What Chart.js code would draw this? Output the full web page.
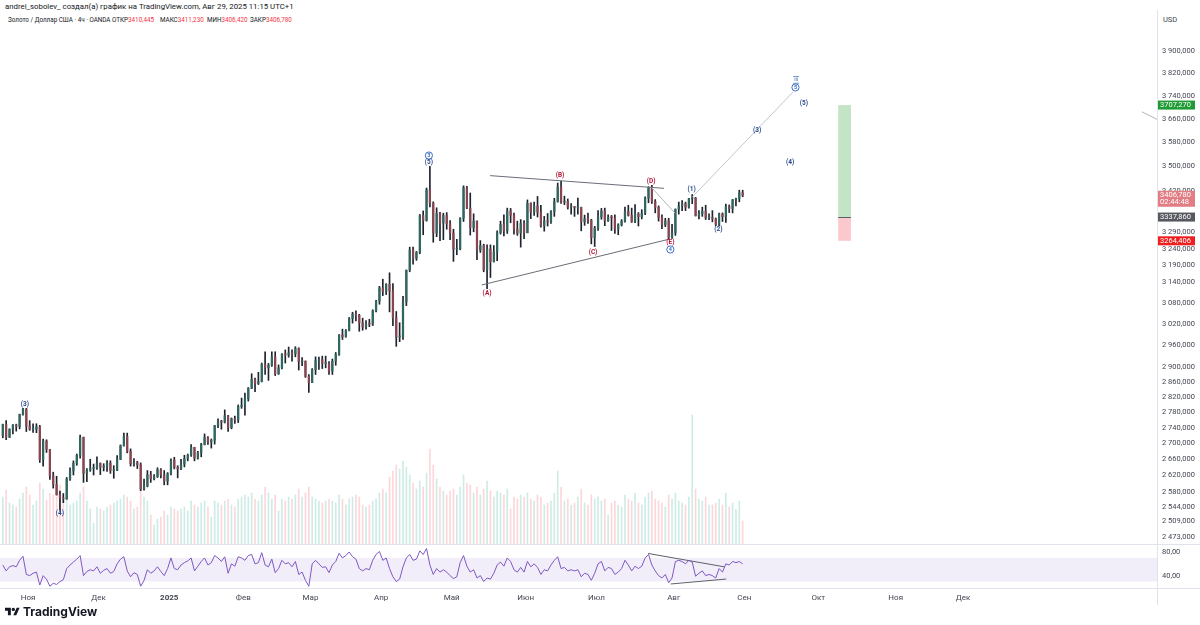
<!DOCTYPE html>
<html lang="ru">
<head>
<meta charset="utf-8">
<title>Золото / Доллар США · 4ч · OANDA</title>
<script src="https://cdn.jsdelivr.net/npm/chart.js@4.4.1/dist/chart.umd.min.js"></script>
<style>
  html, body { margin: 0; padding: 0; background: #fff; }
  body { width: 1200px; height: 625px; position: relative; overflow: hidden;
         font-family: Roboto, "Liberation Sans", Arial, sans-serif; color: #131722; }
  .abs { position: absolute; white-space: nowrap; }
  #author { left: 5px; top: 2px; font-size: 7.8px; }
  .sym { top: 16px; font-size: 6.3px; }
  .sym .v { color: #f23645; }
  #usd { left: 1163px; top: 15px; font-size: 7.5px; color: #434651; }
  #price { left: 0; top: 0; width: 1200px; height: 545px; }
  #rsi { left: 0; top: 545px; width: 1200px; height: 60px; }
  .hline { position: absolute; height: 1px; background: #e0e3eb; }
  .vline { position: absolute; width: 1px; background: #e0e3eb; }
  #logo { left: 5px; top: 604px; font: bold 12px Inter, Roboto, sans-serif; display: flex; align-items: center; gap: 3px; }
</style>
</head>
<body>
<div id="author" class="abs">andrei_sobolev_ создал(а) график на TradingView.com, Авг 29, 2025 11:15 UTC+1</div>
<div class="abs sym" style="left:8px">Золото / Доллар США · 4ч · OANDA</div>
<div class="abs sym" style="left:112px">ОТКР<span class="v">3410,445</span></div>
<div class="abs sym" style="left:160px">МАКС<span class="v">3411,230</span></div>
<div class="abs sym" style="left:207px">МИН<span class="v">3406,420</span></div>
<div class="abs sym" style="left:250px">ЗАКР<span class="v">3406,780</span></div>
<div id="usd" class="abs">USD</div>
<canvas id="price" class="abs" width="1200" height="545"></canvas>
<canvas id="rsi" class="abs" width="1200" height="60"></canvas>
<div class="hline" style="left:0;top:544px;width:1200px"></div>
<div class="hline" style="left:0;top:588px;width:1200px"></div>
<div class="vline" style="left:1157px;top:10px;height:595px"></div>
<div id="logo" class="abs">
  <svg width="15" height="11" viewBox="0 0 36 26"><path d="M14 22H7V11H0V4h14z" fill="#131722"/><circle cx="20" cy="8" r="4" fill="#131722"/><path d="M28 4h7l-8 18h-7z" fill="#131722"/></svg>
  <span>TradingView</span>
</div>

<script>
// ===== DATA =====
// one daily bar per trading day: index 0 = 22 Oct 2024, last = 29 Aug 2025 (partial)
const opens = [
  2720,2748,2715,2736,2747,2743,2774,2788, // Oct
  2744,2736,2736,2742,2659,2706,2685,2619,2598,2573,2565,2563,2611,2631,2650,2670,2715,2625,2633,2637,2639, // Nov
  2650,2640,2643,2650,2632,2633,2660,2694,2718,2680,2648,2652,2646,2587,2594,2622,2612,2617,2634,2621,2606, // Dec
  2624,2658,2640,2636,2648,2662,2670,2690,2663,2677,2697,2715,2703,2708,2745,2755,2754,2771,2740,2763,2760,2795, // Jan
  2798,2815,2843,2867,2856,2861,2908,2898,2905,2928,2882,2898,2935,2933,2939,2936,2951,2915,2916,2875, // Feb
  2858,2893,2918,2920,2910,2910,2889,2916,2934,2989,2984,3001,3035,3048,3044,3023,3011,3020,3019,3057,3085, // Mar
  3124,3113,3134,3114,3037,2983,2983,3083,3176,3237,3211,3229,3343,3327,3424,3381,3288,3349,3319,3343,3317, // Apr
  3288,3239,3240,3334,3431,3366,3305,3325,3236,3250,3177,3240,3201,3230,3289,3315,3295,3357,3343,3301,3288,3318, // May
  3289,3381,3353,3373,3353,3310,3326,3323,3355,3386,3433,3385,3388,3369,3370,3368,3368,3323,3333,3328,3274, // Jun
  3303,3338,3357,3326,3337,3336,3301,3313,3325,3355,3343,3324,3347,3339,3350,3397,3431,3387,3368,3337,3314,3326,3275, // Jul
  3289,3363,3373,3380,3369,3396,3398,3342,3348,3356,3336,3336,3332,3315,3348,3339,3371,3365,3393,3396,3415 // Aug
];
const highs = [
  2749,2758,2737,2748,2749,2775,2790,2790,
  2758,2750,2750,2746,2711,2709,2685,2628,2618,2582,2576,2615,2639,2656,2673,2721,2716,2637,2660,2648,2666,
  2651,2649,2657,2656,2644,2669,2696,2726,2726,2686,2662,2655,2651,2611,2632,2630,2622,2639,2637,2632,2627,
  2661,2665,2644,2660,2670,2673,2697,2690,2680,2700,2724,2717,2711,2746,2763,2759,2786,2772,2765,2770,2799,2817,
  2830,2845,2882,2870,2886,2911,2942,2910,2942,2942,2906,2937,2947,2955,2947,2956,2953,2926,2917,2880,
  2896,2928,2927,2930,2930,2915,2922,2940,2990,3005,3004,3038,3053,3057,3047,3036,3029,3033,3060,3087,3128,
  3149,3136,3168,3136,3055,3023,3099,3176,3245,3245,3232,3346,3357,3430,3500,3386,3367,3353,3350,3352,3327,
  3300,3269,3336,3437,3435,3414,3348,3326,3265,3254,3252,3252,3250,3295,3325,3345,3366,3365,3350,3325,3330,3327,
  3392,3383,3385,3403,3375,3340,3349,3358,3397,3446,3452,3404,3395,3380,3371,3398,3369,3344,3350,3331,3309,
  3358,3365,3366,3345,3343,3345,3317,3330,3369,3375,3366,3377,3352,3361,3402,3434,3439,3393,3373,3345,3334,3334,3315,
  3363,3385,3390,3385,3397,3409,3400,3358,3369,3375,3348,3358,3335,3350,3351,3379,3376,3393,3398,3423,3423
];
const lows = [
  2714,2709,2715,2724,2731,2737,2772,2730,
  2733,2728,2727,2652,2643,2677,2610,2589,2572,2536,2554,2562,2608,2621,2645,2663,2603,2605,2630,2621,2635,
  2622,2631,2630,2625,2613,2632,2659,2693,2676,2643,2643,2637,2583,2584,2592,2603,2609,2615,2614,2597,2597,
  2621,2636,2614,2634,2641,2656,2667,2656,2660,2666,2696,2697,2688,2698,2740,2736,2752,2730,2737,2751,2753,2790,
  2772,2809,2842,2834,2853,2860,2880,2864,2902,2877,2880,2895,2911,2927,2916,2928,2892,2904,2872,2832,
  2858,2880,2894,2896,2898,2880,2880,2905,2932,2976,2982,3000,3022,3028,2999,3002,3005,3012,3015,3054,3076,
  3101,3104,3054,3015,2957,2970,2976,3072,3171,3194,3205,3225,3283,3325,3370,3260,3277,3265,3268,3300,3268,
  3202,3222,3237,3324,3364,3282,3292,3207,3229,3171,3121,3154,3200,3204,3285,3279,3287,3320,3285,3281,3245,3271,
  3289,3333,3343,3338,3306,3294,3310,3318,3340,3385,3381,3377,3363,3347,3340,3347,3295,3312,3318,3255,3247,
  3296,3331,3311,3324,3296,3287,3283,3310,3322,3341,3321,3320,3310,3332,3345,3383,3381,3351,3325,3302,3308,3268,3272,
  3281,3347,3358,3358,3366,3380,3341,3332,3340,3330,3330,3323,3311,3311,3324,3321,3352,3351,3373,3386,3402
];
const closes = [
  2748,2715,2736,2747,2743,2774,2788,2744,
  2736,2736,2742,2659,2706,2685,2619,2598,2573,2565,2563,2611,2631,2650,2670,2715,2625,2633,2637,2639,2650,
  2640,2643,2650,2632,2633,2660,2694,2718,2680,2648,2652,2646,2587,2594,2622,2612,2617,2634,2621,2606,2624,
  2658,2640,2636,2648,2662,2670,2690,2663,2677,2697,2715,2703,2708,2745,2755,2754,2771,2740,2763,2760,2795,2798,
  2815,2843,2867,2856,2861,2908,2898,2905,2928,2882,2898,2935,2933,2939,2936,2951,2915,2916,2875,2858,
  2893,2918,2920,2910,2910,2889,2916,2934,2989,2984,3001,3035,3048,3044,3023,3011,3020,3019,3057,3085,3124,
  3113,3134,3114,3037,2983,2983,3083,3176,3237,3211,3229,3343,3327,3424,3381,3288,3349,3319,3343,3317,3288,
  3239,3240,3334,3431,3366,3305,3325,3236,3250,3177,3240,3201,3230,3289,3315,3295,3357,3343,3301,3288,3318,3289,
  3381,3353,3373,3353,3310,3326,3323,3355,3386,3433,3385,3388,3369,3370,3368,3368,3323,3333,3328,3274,3303,
  3338,3357,3326,3337,3336,3301,3313,3325,3355,3343,3324,3347,3339,3350,3397,3431,3387,3368,3337,3314,3326,3275,3289,
  3363,3373,3380,3369,3396,3398,3342,3348,3356,3336,3336,3332,3315,3348,3339,3371,3365,3393,3396,3415,3406.78
];
// volume, thousands
const volumes = [
  48,55,42,40,38,46,52,58,
  50,40,44,62,56,45,52,50,48,60,44,46,40,42,44,52,58,44,36,22,38,
  36,34,38,40,42,44,46,50,48,44,36,38,56,48,44,30,20,26,28,34,30,
  38,36,34,36,38,34,44,40,38,42,44,38,28,44,42,40,44,46,40,38,46,48,
  50,48,52,46,44,50,58,52,46,50,34,46,44,48,46,50,56,48,52,58,
  48,46,44,42,44,46,44,42,50,46,40,46,48,50,48,40,38,40,44,46,52,
  56,52,68,74,80,76,84,78,70,62,56,64,58,72,96,80,66,58,54,50,54,
  56,50,58,70,62,60,52,58,50,56,64,54,48,54,52,50,56,36,48,46,50,48,
  52,46,44,50,48,40,42,44,52,74,58,44,46,40,42,48,56,42,40,50,46,
  48,44,46,30,42,44,40,38,50,46,44,52,42,40,48,52,54,46,44,42,38,50,46,
  52,44,42,40,48,130,56,46,44,48,40,40,42,46,40,52,38,42,36,44,24
];
const rsiValues = [
  58,48,55,57,55,66,73,42,
  40,44,46,24,40,34,22,27,25,30,33,52,58,63,68,74,40,47,50,48,55,
  44,49,52,44,47,60,68,72,48,38,45,42,22,32,50,44,48,55,47,40,52,
  70,52,50,58,62,65,70,48,56,64,70,58,62,74,70,64,72,44,60,56,72,70,
  66,74,76,60,62,79,58,55,68,45,52,66,60,62,55,64,42,46,32,22,
  60,66,60,54,55,45,58,64,78,70,74,80,72,68,52,48,52,50,66,76,81,
  66,70,52,38,30,34,55,70,76,66,68,82,76,86,58,42,52,46,50,46,40,
  35,38,62,74,56,46,50,36,40,30,36,34,44,58,63,56,70,64,50,46,54,46,
  64,55,60,54,42,50,48,58,66,72,52,54,48,50,48,50,38,44,42,32,44,
  60,64,48,54,52,42,46,52,66,58,48,56,52,56,70,76,58,48,40,36,42,28,36,
  64,66,64,60,66,63,39,44,48,40,42,40,36,52,46,60,58,64,62,64,60
];

const priceTicks = [3900,3820,3740,3660,3580,3500,3420,3290,3240,3190,3140,3080,3020,2960,2900,2860,2820,2780,2740,2700,2660,2620,2580,2544,2509,2473];
const rsiTicks = [40, 80];
// first trading day of each month, as bar index (future months continue the count)
const monthTicks = [8,29,50,72,92,113,134,156,177,200,221,243,266,286];
const monthLabels = ["Ноя","Дек","2025","Фев","Мар","Апр","Май","Июн","Июл","Авг","Сен","Окт","Ноя","Дек"];

// drawings (bar index, price)
const triangleUpper = [{x:145.4, y:3470}, {x:197.1, y:3429}];
const triangleLower = [{x:142.9, y:3132}, {x:198.9, y:3270}];
const lineFromD = [{x:193.2, y:3434}, {x:200.4, y:3350}];
const projection = [{x:205.6, y:3402}, {x:235.5, y:3753}];
const edgeLine = [{x:339.2, y:3684}, {x:343.7, y:3658}];
const longPos = { from: 248.9, to: 252.7, target: 3707.27, entry: 3337.86, stop: 3264.406 };
// [text, bar index, price, kind]
const waveLabels = [
  ["(3)", 7.1, 2801, "minor"], ["(4)", 17.5, 2529, "minor"],
  ["3", 127.2, 3536, "circle"], ["(5)", 127.2, 3513, "minor"],
  ["(A)", 144.5, 3108, "abc"], ["(B)", 166.2, 3472, "abc"], ["(C)", 176.0, 3230, "abc"],
  ["(D)", 193.3, 3453, "abc"], ["(E)", 199.0, 3259, "abc"], ["4", 199.0, 3238, "circle"],
  ["(1)", 205.3, 3424, "minor"], ["(2)", 213.3, 3301, "minor"],
  ["(3)", 224.8, 3619, "minor"], ["(4)", 234.6, 3515, "minor"], ["(5)", 238.7, 3714, "minor"],
  ["5", 236.2, 3769, "circle"], ["iii", 236.4, 3796, "roman"]
];
const rsiUpper = [{x:192.4, y:77.6}, {x:215.1, y:54.9}];
const rsiLower = [{x:199.1, y:25.8}, {x:215.6, y:34.2}];

// ===== CHARTS =====
const X_MIN = -0.33, X_MAX = 343.7;
const FONT = "Roboto, 'Liberation Sans', Arial, sans-serif";
Chart.defaults.font.family = FONT;

const xs = closes.map((_, i) => i + 0.5);
const isUp = closes.map((c, i) => c >= opens[i]);

function fmtNum(v, dec, sep) {
  const [i, f] = v.toFixed(dec).split(".");
  return i.replace(/\B(?=(\d{3})+(?!\d))/g, sep) + "," + f;
}

function lineSet(data, color, axis) {
  return { type: "line", data, borderColor: color, borderWidth: 1, pointRadius: 0, yAxisID: axis, order: 0 };
}

// keep the plot area flush with the canvas edges (no label overhang padding)
function noPad(scale) {
  scale.paddingTop = 0;
  scale.paddingBottom = 0;
  scale.paddingLeft = 0;
  scale.paddingRight = 0;
}

const overlayPlugin = {
  id: "overlay",
  afterDatasetsDraw(chart) {
    const { ctx, scales: { x, y } } = chart;
    ctx.save();
    // long position tool
    const x0 = x.getPixelForValue(longPos.from), x1 = x.getPixelForValue(longPos.to);
    const yt = y.getPixelForValue(longPos.target), ye = y.getPixelForValue(longPos.entry), ys = y.getPixelForValue(longPos.stop);
    ctx.fillStyle = "rgba(76,175,80,0.33)";
    ctx.fillRect(x0, yt, x1 - x0, ye - yt);
    ctx.fillStyle = "rgba(242,54,69,0.27)";
    ctx.fillRect(x0, ye, x1 - x0, ys - ye);
    ctx.fillStyle = "#5d606b";
    ctx.fillRect(x0, Math.round(ye), x1 - x0, 1);

    // wave labels
    ctx.textAlign = "center";
    ctx.textBaseline = "middle";
    waveLabels.forEach(([text, xi, p, kind]) => {
      const px = x.getPixelForValue(xi), py = y.getPixelForValue(p);
      if (kind === "circle") {
        ctx.strokeStyle = "#3a6fc4";
        ctx.lineWidth = 1;
        ctx.beginPath();
        ctx.arc(px, py, 3.6, 0, Math.PI * 2);
        ctx.stroke();
        ctx.fillStyle = "#3a6fc4";
        ctx.font = "bold 5.5px " + FONT;
        ctx.fillText(text, px, py + 0.3);
      } else if (kind === "roman") {
        ctx.fillStyle = "#3a6fc4";
        ctx.font = "5.5px " + FONT;
        ctx.fillText(text, px, py);
        ctx.fillRect(px - 3, py - 3.5, 6, 0.7);
        ctx.fillRect(px - 3, py + 3, 6, 0.7);
      } else {
        ctx.fillStyle = kind === "abc" ? "#b5173a" : "#2a4b8d";
        ctx.font = "bold 6.5px " + FONT;
        ctx.fillText(text, px, py);
      }
    });
    ctx.restore();
  },
  afterDraw(chart) {
    const { ctx, scales: { y } } = chart;
    const left = 1157, w = 38;
    ctx.save();
    ctx.font = "7.5px " + FONT;
    ctx.textAlign = "left";
    ctx.textBaseline = "middle";
    function badge(price, bg, lines) {
      const py = y.getPixelForValue(price);
      const h = lines.length === 1 ? 9 : 16;
      ctx.fillStyle = bg;
      ctx.fillRect(left, py - 4.5, w, h);
      ctx.fillStyle = "#fff";
      lines.forEach((t, k) => ctx.fillText(t, left + 3, py + k * 7));
    }
    badge(longPos.target, "#1e9b34", [fmtNum(longPos.target, 3, "")]);
    badge(closes[closes.length - 1], "#e27d84", [fmtNum(closes[closes.length - 1], 3, ""), "02:44:48"]);
    badge(longPos.entry, "#56585f", [fmtNum(longPos.entry, 3, "")]);
    badge(longPos.stop, "#f01f1f", [fmtNum(longPos.stop, 3, "")]);
    ctx.restore();
  }
};

new Chart(document.getElementById("price"), {
  type: "bar",
  data: {
    datasets: [
      lineSet(triangleUpper, "#6a6d78", "y"),
      lineSet(triangleLower, "#6a6d78", "y"),
      lineSet(lineFromD, "#b2b5be", "y"),
      lineSet(projection, "#c3c6ce", "y"),
      lineSet(edgeLine, "#b2b5be", "y"),
      {
        data: xs.map((x, i) => ({ x, y: [opens[i], closes[i]] })),
        backgroundColor: isUp.map(u => (u ? "#2f6660" : "#8a4650")),
        barThickness: 1.6, minBarLength: 1, grouped: false, yAxisID: "y", order: 1
      },
      {
        data: xs.map((x, i) => ({ x, y: [lows[i], highs[i]] })),
        backgroundColor: "#1f232e",
        barThickness: 1, grouped: false, yAxisID: "y", order: 2
      },
      {
        data: xs.map((x, i) => ({ x, y: volumes[i] })),
        backgroundColor: isUp.map(u => (u ? "rgba(8,153,129,0.2)" : "rgba(242,54,69,0.2)")),
        barThickness: 1, grouped: false, yAxisID: "vol", order: 3
      }
    ]
  },
  options: {
    responsive: false,
    animation: false,
    events: [],
    layout: { padding: { top: 30, left: 0, right: 0, bottom: 0 } },
    plugins: { legend: { display: false }, tooltip: { enabled: false } },
    scales: {
      x: { type: "linear", min: X_MIN, max: X_MAX, offset: false, display: false },
      y: {
        type: "logarithmic",
        position: "right",
        min: 2454.6,
        max: 3977.5,
        grid: { display: false, drawTicks: false },
        border: { display: false },
        afterFit(scale) { scale.width = 43; noPad(scale); },
        afterBuildTicks(scale) { scale.ticks = priceTicks.map(v => ({ value: v })); },
        ticks: {
          autoSkip: false,
          padding: 5,
          color: "#434651",
          font: { size: 7.5 },
          callback: v => fmtNum(v, 3, " ")
        }
      },
      vol: { type: "linear", display: false, min: 0, max: 515 }
    }
  },
  plugins: [overlayPlugin]
});

const rsiBandPlugin = {
  id: "rsiBand",
  beforeDatasetsDraw(chart) {
    const { ctx, chartArea, scales: { y } } = chart;
    const top = y.getPixelForValue(70), bottom = y.getPixelForValue(30);
    ctx.save();
    ctx.fillStyle = "rgba(126,87,194,0.1)";
    ctx.fillRect(chartArea.left, top, chartArea.right - chartArea.left, bottom - top);
    ctx.restore();
  }
};

new Chart(document.getElementById("rsi"), {
  type: "line",
  data: {
    datasets: [
      {
        data: xs.map((x, i) => ({ x, y: rsiValues[i] })),
        borderColor: "#7e57c2", borderWidth: 1, pointRadius: 0, tension: 0
      },
      { data: rsiUpper, borderColor: "#5d606b", borderWidth: 1, pointRadius: 0 },
      { data: rsiLower, borderColor: "#5d606b", borderWidth: 1, pointRadius: 0 }
    ]
  },
  options: {
    responsive: false,
    animation: false,
    events: [],
    layout: { padding: 0 },
    plugins: { legend: { display: false }, tooltip: { enabled: false } },
    scales: {
      x: {
        type: "linear",
        min: X_MIN,
        max: X_MAX,
        offset: false,
        grid: { display: false, drawTicks: false },
        border: { display: false },
        afterFit(scale) { scale.height = 17; noPad(scale); },
        afterBuildTicks(scale) { scale.ticks = monthTicks.map(v => ({ value: v })); },
        ticks: {
          autoSkip: false,
          maxRotation: 0,
          padding: 5,
          color: "#434651",
          font: c => ({ size: 8, weight: c.tick && c.tick.value === 50 ? "bold" : "normal" }),
          callback: (v, i) => monthLabels[i]
        }
      },
      y: {
        position: "right",
        min: 19,
        max: 92,
        grid: { display: false, drawTicks: false },
        border: { display: false },
        afterFit(scale) { scale.width = 43; noPad(scale); },
        afterBuildTicks(scale) { scale.ticks = rsiTicks.map(v => ({ value: v })); },
        ticks: {
          padding: 5,
          color: "#434651",
          font: { size: 7.5 },
          callback: v => v.toFixed(2).replace(".", ",")
        }
      }
    }
  },
  plugins: [rsiBandPlugin]
});
</script>
</body>
</html>
